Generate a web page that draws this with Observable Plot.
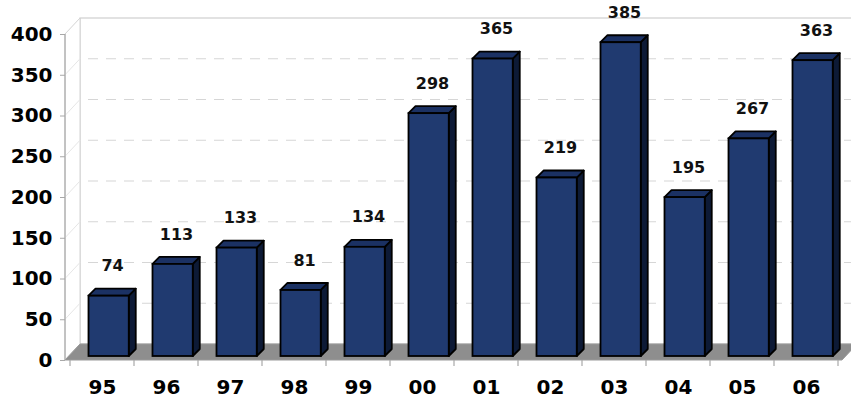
<!DOCTYPE html>
<html>
<head>
<meta charset="utf-8">
<script src="https://cdn.jsdelivr.net/npm/d3@7"></script>
<script src="https://cdn.jsdelivr.net/npm/@observablehq/plot@0.6"></script>
<style>
  html, body { margin: 0; padding: 0; background: #fff; }
  #chart svg { display: block; }
</style>
</head>
<body>
<div id="chart"></div>
<script>
// ---- data ----
const years = ["95", "96", "97", "98", "99", "00", "01", "02", "03", "04", "05", "06"];
const counts = [74, 113, 133, 81, 134, 298, 365, 219, 385, 195, 267, 363];
const yTicks = [0, 50, 100, 150, 200, 250, 300, 350, 400];

const data = years.map((year, i) => ({ year, count: counts[i] }));

// ---- styling constants ----
const FONT = "'DejaVu Sans', sans-serif";
const WALL_DX = 15, WALL_DY = 16;       // depth of the 3D box
const BAR_DX = 7, BAR_DY = 7;           // depth of each bar
const BAR_SHIFT = 4;                    // bars stand a little back from the front edge
const INSET_L = 18.5, INSET_R = 5.25;   // bar placement inside band

// Frame (back wall, left wall, floor, grid) drawn with the plot's scales
function frameMark(index, scales, values, dims) {
  const { x, y } = scales;
  const g = d3.create("svg:g");
  const xl = dims.marginLeft, xr = dims.width - dims.marginRight;
  const y0 = y(0), yTop = y(d3.max(yTicks));
  // back wall
  g.append("rect")
    .attr("x", xl + WALL_DX).attr("y", yTop - WALL_DY)
    .attr("width", xr - xl + 40).attr("height", y0 - yTop)
    .attr("fill", "#fff").attr("stroke", "#cfcfcf").attr("stroke-width", 1.2);
  // left wall
  g.append("path")
    .attr("d", `M${xl},${yTop}L${xl + WALL_DX},${yTop - WALL_DY}L${xl + WALL_DX},${y0 - WALL_DY}L${xl},${y0}Z`)
    .attr("fill", "#fff").attr("stroke", "#d4d4d4").attr("stroke-width", 1);
  // gridlines on back wall and faint diagonals on left wall
  for (const v of yTicks.slice(1, -1)) {
    g.append("line")
      .attr("x1", xl + WALL_DX + 8).attr("x2", dims.width)
      .attr("y1", y(v) - WALL_DY).attr("y2", y(v) - WALL_DY)
      .attr("stroke", "#d6d6d6").attr("stroke-width", 1.2)
      .attr("stroke-dasharray", "10,8");
    g.append("line")
      .attr("x1", xl).attr("x2", xl + WALL_DX)
      .attr("y1", y(v)).attr("y2", y(v) - WALL_DY)
      .attr("stroke", "#e6e6e6").attr("stroke-width", 1);
  }
  // floor
  g.append("path")
    .attr("d", `M${xl},${y0}L${xr},${y0}L${xr + WALL_DX},${y0 - WALL_DY}L${xl + WALL_DX},${y0 - WALL_DY}Z`)
    .attr("fill", "#8e8e8e").attr("stroke", "#9a9a9a").attr("stroke-width", 1);
  // y axis line
  g.append("line")
    .attr("x1", xl).attr("x2", xl).attr("y1", yTop).attr("y2", y0)
    .attr("stroke", "#a8a8a8").attr("stroke-width", 1.2);
  // x ticks at band edges
  const step = x.step ? x.step() : x.bandwidth();
  const edges = years.map(yr => x(yr)).concat([x(years[years.length - 1]) + step]);
  for (const ex of edges) {
    g.append("line")
      .attr("x1", ex).attr("x2", ex).attr("y1", y0).attr("y2", y0 + 6)
      .attr("stroke", "#a8a8a8").attr("stroke-width", 1.2);
  }
  return g.node();
}

// Top and side faces of each bar
function barFacesMark(index, scales, values, dims) {
  const { x, y } = scales;
  const g = d3.create("svg:g");
  const bw = x.bandwidth();
  for (const d of data) {
    const bx0 = x(d.year) + INSET_L;
    const bx1 = x(d.year) + bw - INSET_R;
    const yt = y(d.count) - BAR_SHIFT;
    const yb = y(0) - BAR_SHIFT;
    g.append("path")
      .attr("d", `M${bx1},${yt}L${bx1 + BAR_DX},${yt - BAR_DY}L${bx1 + BAR_DX},${yb - BAR_DY}L${bx1},${yb}Z`)
      .attr("fill", "#0d1a36").attr("stroke", "#000").attr("stroke-width", 1.8).attr("stroke-linejoin", "round");
    g.append("path")
      .attr("d", `M${bx0},${yt}L${bx1},${yt}L${bx1 + BAR_DX},${yt - BAR_DY}L${bx0 + BAR_DX},${yt - BAR_DY}Z`)
      .attr("fill", "#1b3163").attr("stroke", "#000").attr("stroke-width", 1.8).attr("stroke-linejoin", "round");
  }
  return g.node();
}

const chart = Plot.plot({
  width: 851,
  height: 400,
  marginLeft: 65,
  marginRight: 9,
  marginTop: 34,
  marginBottom: 40,
  style: { fontFamily: FONT, background: "#fff", color: "#000" },
  x: { domain: years, padding: 0, label: null },
  y: { domain: [0, 400], label: null },
  marks: [
    frameMark,
    barFacesMark,
    Plot.barY(data, {
      x: "year", y: "count",
      insetLeft: INSET_L, insetRight: INSET_R, dy: -BAR_SHIFT,
      fill: "#203a70", stroke: "#000", strokeWidth: 1.8
    }),
    Plot.text(data, {
      x: "year", y: "count", text: d => String(d.count),
      dx: 10, dy: -34, fontSize: 16, fontWeight: "bold", fill: "#111"
    }),
    Plot.axisY({
      ticks: yTicks, tickSize: 5, tickPadding: 8, stroke: "#a8a8a8",
      fontSize: 20, fontWeight: "bold", label: null
    }),
    Plot.axisX({
      tickSize: 0, tickPadding: 19, fontSize: 20, fontWeight: "bold", label: null
    })
  ]
});

document.getElementById("chart").appendChild(chart);
</script>
</body>
</html>
